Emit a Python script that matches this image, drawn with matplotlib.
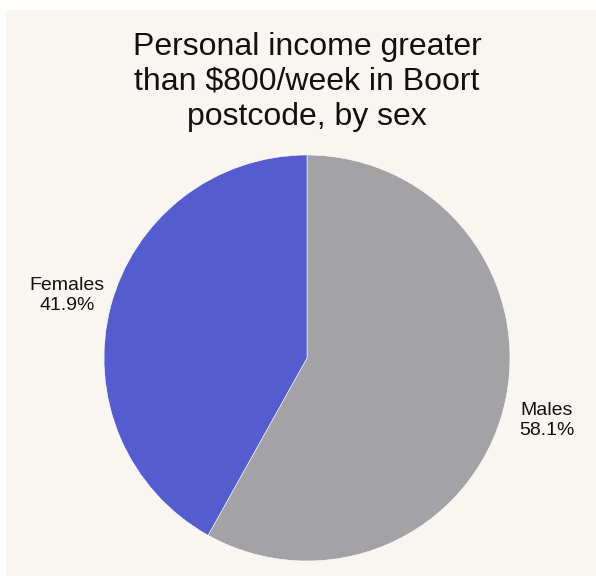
import numpy as np
import matplotlib.pyplot as plt
from matplotlib.patches import Rectangle

plt.rcParams['font.family'] = ['Liberation Sans', 'DejaVu Sans']

labels = ['Males', 'Females']
shares = [58.1, 41.9]
colors = ['#a3a2a5', '#545ccf']
title = 'Personal income greater\nthan $800/week in Boort\npostcode, by sex'

W, H = 596, 576
fig = plt.figure(figsize=(W / 100, H / 100), dpi=100)
fig.patch.set_facecolor('white')
# beige panel behind everything
fig.patches.append(Rectangle((6 / W, 0), 1 - 6 / W, 1 - 10 / H,
                             transform=fig.transFigure, facecolor='#f9f6f1',
                             edgecolor='none', zorder=-5))

# pie centre and radius in pixels
cx, cy, r = 307, 358, 203
ax = fig.add_axes([0, 0, 1, 1])
ax.set_zorder(2)
ax.set_facecolor('none')
wedges, _ = ax.pie(shares, colors=colors, startangle=90, counterclock=False,
                   wedgeprops=dict(edgecolor='white', linewidth=0.4))
ax.set_aspect('auto')
ax.set_xlim(-cx / r, (W - cx) / r)
ax.set_ylim(-(H - cy) / r, cy / r)
ax.axis('off')

for w, lab, val in zip(wedges, labels, shares):
    ang = np.deg2rad((w.theta1 + w.theta2) / 2)
    ax.text(1.22 * np.cos(ang), 1.22 * np.sin(ang), f'{lab}\n{val:.1f}%',
            ha='center', va='center', fontsize=14, color='#111111',
            linespacing=1.2)

fig.text(cx / W, 1 - 82 / H, title, ha='center', va='center',
         fontsize=23, color='#111111', linespacing=1.2)

fig.savefig('out.png', dpi=100)
